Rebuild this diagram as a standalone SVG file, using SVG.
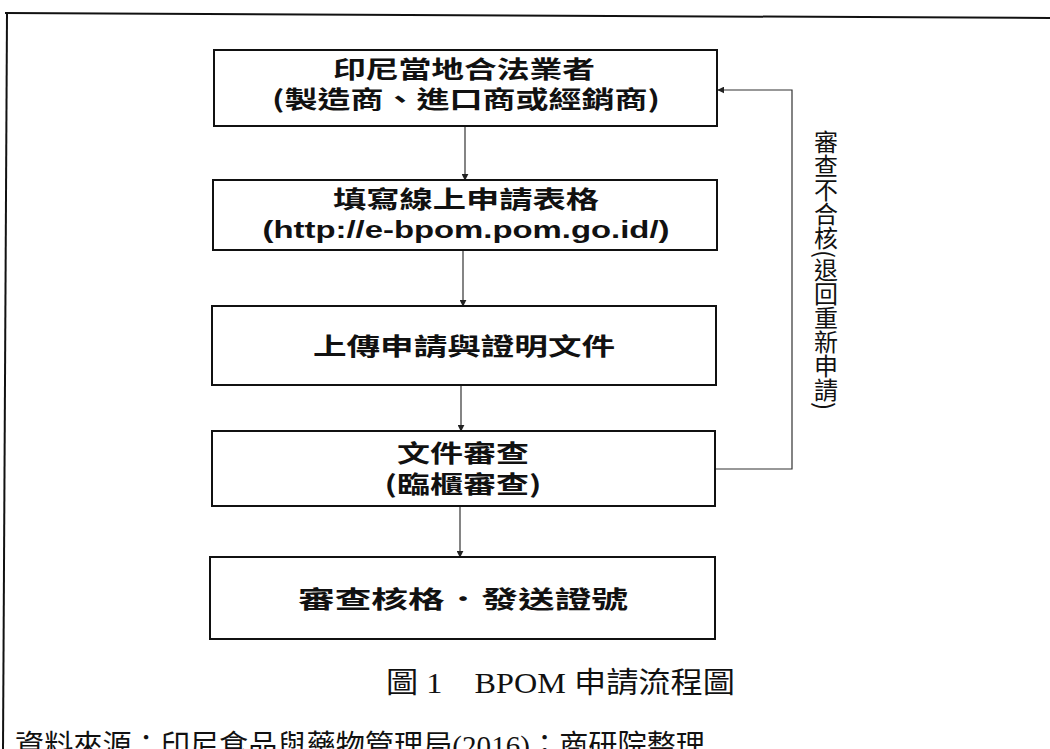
<svg xmlns="http://www.w3.org/2000/svg" width="1050" height="749" viewBox="0 0 1050 749">
<style>
.box{fill:#fff;stroke:#111;stroke-width:2}
.t{font-family:"Noto Sans CJK TC","Noto Sans CJK SC",sans-serif;font-weight:700;font-size:24px;fill:#111;text-anchor:middle}
.u{font-family:"Liberation Sans","Noto Sans",sans-serif;font-weight:700;font-size:24px;fill:#111;text-anchor:middle}
.c{stroke:#333;stroke-width:1.2;fill:none}
.cap{font-family:"Liberation Serif","Noto Sans CJK TC",serif;font-size:29px;fill:#111}
.v{font-family:"Noto Sans CJK TC",sans-serif;font-size:24px;fill:#111;writing-mode:vertical-rl}
</style>
<defs>
<marker id="ah" viewBox="0 0 10 10" refX="9" refY="5" markerWidth="7" markerHeight="7" orient="auto" markerUnits="userSpaceOnUse">
<path d="M0,0 L10,5 L0,10 Z" fill="#222"/>
</marker>
</defs>
<rect width="1050" height="749" fill="#fff"/>
<g id="frame">
<path d="M5,13 L1050,18" stroke="#111" stroke-width="2" fill="none"/>
<path d="M7,13 L3,749" stroke="#111" stroke-width="2" fill="none"/>
</g>
<g id="connectors">
<path class="c" d="M465,126 L465,180" marker-end="url(#ah)"/>
<path class="c" d="M463,250 L463,306" marker-end="url(#ah)"/>
<path class="c" d="M461,385 L461,431" marker-end="url(#ah)"/>
<path class="c" d="M460,506 L460,557" marker-end="url(#ah)"/>
<path class="c" d="M715,469 L792,469 L792,90 L718,90" marker-end="url(#ah)"/>
</g>
<g id="n1">
<rect class="box" x="214" y="50" width="503" height="76"/>
<text class="t" x="464" y="78" textLength="262" lengthAdjust="spacingAndGlyphs">印尼當地合法業者</text>
<text class="t" x="466" y="108" textLength="388" lengthAdjust="spacingAndGlyphs">(製造商、進口商或經銷商)</text>
</g>
<g id="n2">
<rect class="box" x="213" y="180" width="504" height="70"/>
<text class="t" x="466" y="208" textLength="266" lengthAdjust="spacingAndGlyphs">填寫線上申請表格</text>
<text class="u" x="466" y="238" textLength="407" lengthAdjust="spacingAndGlyphs">(http://e-bpom.pom.go.id/)</text>
</g>
<g id="n3">
<rect class="box" x="212" y="306" width="504" height="79"/>
<text class="t" x="464" y="355" textLength="302" lengthAdjust="spacingAndGlyphs">上傳申請與證明文件</text>
</g>
<g id="n4">
<rect class="box" x="212" y="431" width="503" height="75"/>
<text class="t" x="463" y="462" textLength="132" lengthAdjust="spacingAndGlyphs">文件審查</text>
<text class="t" x="463" y="493" textLength="157" lengthAdjust="spacingAndGlyphs">(臨櫃審查)</text>
</g>
<g id="n5">
<rect class="box" x="210" y="557" width="505" height="82"/>
<text class="t" x="463" y="608" textLength="330" lengthAdjust="spacingAndGlyphs">審查核格．發送證號</text>
</g>
<g id="label">
<text class="v" x="826" y="130">審查不合核(退回重新申請)</text>
</g>
<g id="caption">
<text class="cap" x="386" y="693" textLength="349" lengthAdjust="spacingAndGlyphs">圖 1　BPOM 申請流程圖</text>
<text class="cap" x="15" y="756" textLength="690" lengthAdjust="spacingAndGlyphs">資料來源：印尼食品與藥物管理局(2016)；商研院整理</text>
</g>
</svg>
